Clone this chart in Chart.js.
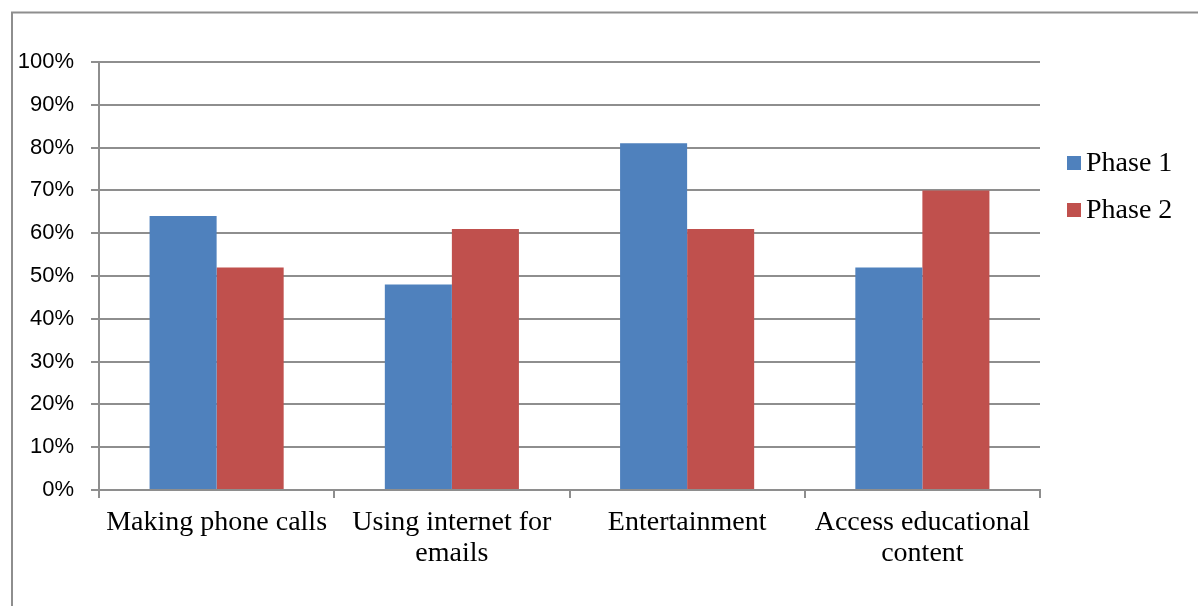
<!DOCTYPE html>
<html>
<head>
<meta charset="utf-8">
<title>Phone usage by phase</title>
<script src="https://cdn.jsdelivr.net/npm/chart.js@4"></script>
<style>
  html, body { margin: 0; padding: 0; background: #fff; }
  #wrap { position: relative; width: 1198px; height: 606px; }
</style>
</head>
<body>
<div id="wrap"><canvas id="usageChart"></canvas></div>
<script>
const categories = [
    'Making phone calls',
    ['Using internet for', 'emails'],
    'Entertainment',
    ['Access educational', 'content']
];
const seriesNames = ['Phase 1', 'Phase 2'];
const phase1 = [64, 48, 81, 52];
const phase2 = [52, 61, 61, 70];
const yTicks = [0, 10, 20, 30, 40, 50, 60, 70, 80, 90, 100];

const colors = ['#4f81bd', '#c0504d'];
const gridColor = '#8e8e8e';
const serif = 'Liberation Serif, Times New Roman, serif';

// thin frame around the whole figure (left and top edges visible)
const framePlugin = {
    id: 'frame',
    beforeDraw(chart) {
        const ctx = chart.ctx;
        ctx.save();
        ctx.strokeStyle = gridColor;
        ctx.lineWidth = 2;
        ctx.beginPath();
        ctx.moveTo(12, chart.height + 2);
        ctx.lineTo(12, 12.5);
        ctx.lineTo(chart.width + 2, 12.5);
        ctx.stroke();
        ctx.restore();
    }
};

// legend to the right of the plot
const sideLegend = {
    id: 'sideLegend',
    afterDraw(chart) {
        const ctx = chart.ctx;
        const area = chart.chartArea;
        const x = area.right + 27;
        ctx.save();
        ctx.font = '28px ' + serif;
        ctx.textBaseline = 'middle';
        chart.data.datasets.forEach((ds, i) => {
            const y = area.top + 101 + i * 47;
            ctx.fillStyle = ds.backgroundColor;
            ctx.fillRect(x, y - 7, 14, 14);
            ctx.fillStyle = '#000';
            ctx.fillText(ds.label, x + 19, y + 1);
        });
        ctx.restore();
    }
};

const ctx = document.getElementById('usageChart').getContext('2d');
new Chart(ctx, {
    type: 'bar',
    data: {
        labels: categories,
        datasets: [
            { label: seriesNames[0], data: phase1, backgroundColor: colors[0] },
            { label: seriesNames[1], data: phase2, backgroundColor: colors[1] }
        ]
    },
    options: {
        responsive: true,
        maintainAspectRatio: false,
        animation: false,
        layout: { padding: { top: 62, right: 158, left: 0, bottom: 0 } },
        datasets: {
            bar: { categoryPercentage: 0.57, barPercentage: 1 }
        },
        plugins: {
            legend: { display: false },
            tooltip: { enabled: false }
        },
        scales: {
            x: {
                afterFit(scale) { scale.height = 116; },
                grid: {
                    offset: true,
                    drawOnChartArea: false,
                    drawTicks: true,
                    tickLength: 8,
                    color: gridColor,
                    lineWidth: 2
                },
                border: { color: gridColor, width: 2 },
                ticks: {
                    color: '#000',
                    font: { family: serif, size: 28, lineHeight: 1.1 },
                    padding: 9,
                    maxRotation: 0,
                    autoSkip: false
                }
            },
            y: {
                min: 0,
                max: 100,
                afterFit(scale) { scale.width = 99; },
                afterBuildTicks(scale) {
                    scale.ticks = yTicks.map(v => ({ value: v }));
                },
                grid: {
                    color: gridColor,
                    lineWidth: 2,
                    tickLength: 8
                },
                border: { color: gridColor, width: 2 },
                ticks: {
                    color: '#000',
                    font: { family: 'Liberation Sans, Arial, sans-serif', size: 22 },
                    padding: 17,
                    callback: v => v + '%'
                }
            }
        }
    },
    plugins: [framePlugin, sideLegend]
});
</script>
</body>
</html>
